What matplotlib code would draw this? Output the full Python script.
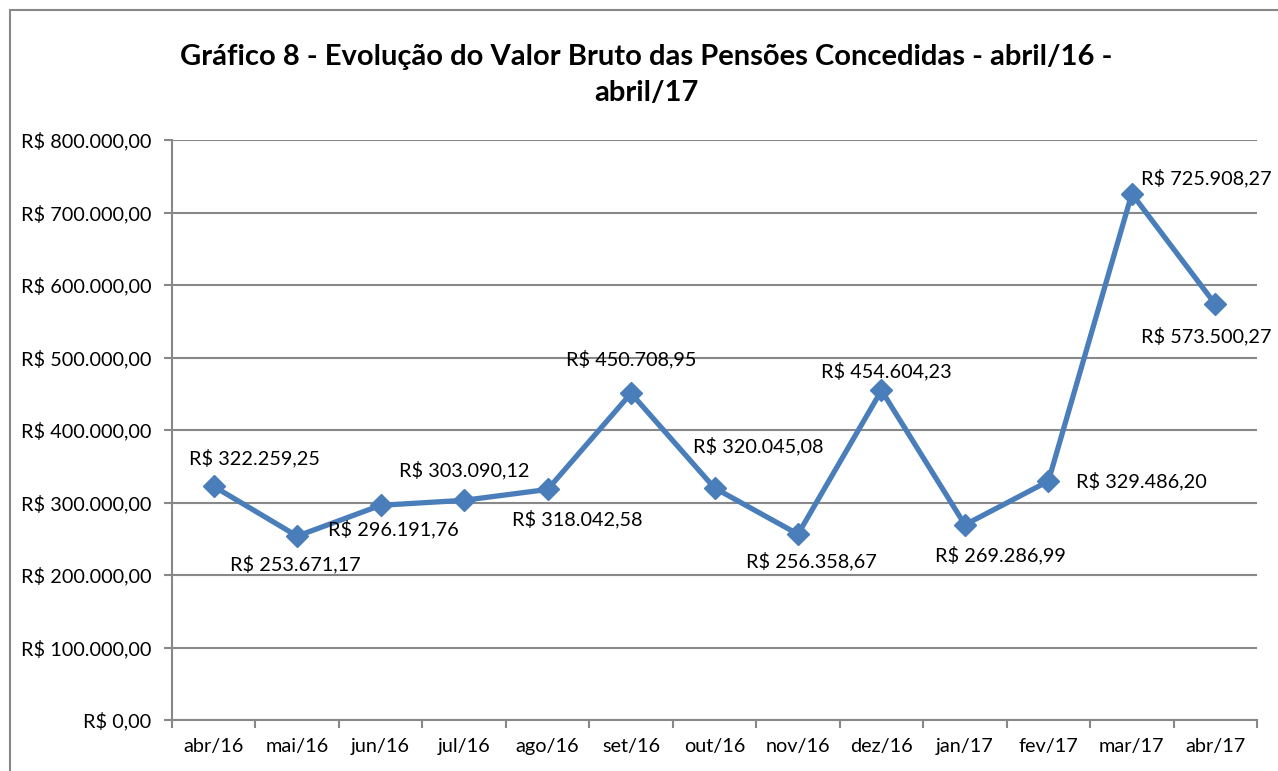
import matplotlib.pyplot as plt
from matplotlib.patches import Rectangle

# dados do gráfico
meses = ['abr/16', 'mai/16', 'jun/16', 'jul/16', 'ago/16', 'set/16', 'out/16',
         'nov/16', 'dez/16', 'jan/17', 'fev/17', 'mar/17', 'abr/17']
valores = [322259.25, 253671.17, 296191.76, 303090.12, 318042.58, 450708.95, 320045.08,
           256358.67, 454604.23, 269286.99, 329486.20, 725908.27, 573500.27]
yticks = [0, 100000, 200000, 300000, 400000, 500000, 600000, 700000, 800000]

# deslocamento dos rótulos (pixels)
offsets = [(41, 28), (-2, -28), (13, -24), (0, 30), (30, -30), (0, 34), (44, 42),
           (13, -27), (5, 19), (36, -30), (93, 0), (74, 16), (-9, -32)]


def brl(v):
    s = f'{v:,.2f}'.replace(',', 'X').replace('.', ',').replace('X', '.')
    return 'R$ ' + s


plt.rcParams['font.family'] = ['Lato', 'DejaVu Sans']

fig = plt.figure(figsize=(12.78, 7.71), dpi=100)
ax = fig.add_axes([0.1346, 0.0661, 0.849, 0.7523])

# borda do gráfico
fig.patches.append(Rectangle((10 / 1278, -0.1), 1.2, 1.1 - 10 / 771, transform=fig.transFigure,
                             fill=False, edgecolor='#888888', linewidth=1.5))

x = list(range(len(meses)))
ax.plot(x, valores, color='#4A7EBB', linewidth=3.8, marker='D', markersize=11,
        markerfacecolor='#4A7EBB', markeredgecolor='#4A7EBB', zorder=3)

for xi, v, off in zip(x, valores, offsets):
    ax.annotate(brl(v), (xi, v), xytext=off, textcoords='offset pixels',
                ha='center', va='center', fontsize=14.3)

ax.set_xlim(-0.5, len(meses) - 0.5)
ax.set_ylim(0, 800000)
ax.set_yticks(yticks)
ax.set_yticklabels([brl(t) for t in yticks], fontsize=14.3)
ax.set_xticks(x)
ax.set_xticklabels(meses, fontsize=14.3)
ax.set_xticks([i - 0.5 for i in range(len(meses) + 1)], minor=True)
ax.tick_params(axis='x', which='major', length=0, pad=13)
ax.tick_params(axis='x', which='minor', length=6, color='#888888', width=1.5)
ax.tick_params(axis='y', length=6, color='#888888', width=1.5, pad=9)

ax.grid(True, axis='y', color='#888888', linewidth=1.5)
ax.set_axisbelow(True)
for s in ['top', 'right']:
    ax.spines[s].set_visible(False)
for s in ['left', 'bottom']:
    ax.spines[s].set_color('#888888')
    ax.spines[s].set_linewidth(1.5)

fig.text(0.506, 0.903, 'Gráfico 8 - Evolução do Valor Bruto das Pensões Concedidas - abril/16 -\nabril/17',
         ha='center', va='center', fontsize=21, fontweight='bold', linespacing=1.45)

fig.savefig('out.png', dpi=100)
